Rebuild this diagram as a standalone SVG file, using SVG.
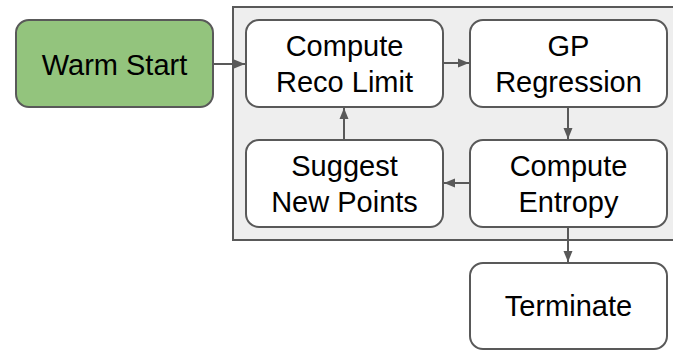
<svg xmlns="http://www.w3.org/2000/svg" width="673" height="353" viewBox="0 0 673 353">
<defs>
<style>
.box{fill:#ffffff;stroke:#595959;stroke-width:2}
.start{fill:#93c47d;stroke:#595959;stroke-width:2}
.lbl{font-family:"Liberation Sans",Arial,sans-serif;font-size:29px;fill:#000000;text-anchor:middle}
.edge{stroke:#595959;stroke-width:2;fill:none;marker-end:url(#ah)}
</style>
<marker id="ah" markerWidth="12" markerHeight="10" refX="11" refY="5" orient="auto" markerUnits="userSpaceOnUse">
<path d="M0,0.5 L11,5 L0,9.5 Z" fill="#595959"/>
</marker>
</defs>
<rect x="233" y="7" width="445" height="233" fill="#eeeeee" stroke="#595959" stroke-width="2"/>
<g id="warm-start">
<rect class="start" x="16" y="20" width="197" height="87" rx="13"/>
<text class="lbl" x="114.5" y="74.5">Warm Start</text>
</g>
<g id="compute-reco-limit">
<rect class="box" x="246" y="20" width="197" height="87" rx="13"/>
<text class="lbl" x="344.5" y="56">Compute</text>
<text class="lbl" x="344.5" y="92">Reco Limit</text>
</g>
<g id="gp-regression">
<rect class="box" x="470" y="20" width="197" height="87" rx="13"/>
<text class="lbl" x="568.5" y="56">GP</text>
<text class="lbl" x="568.5" y="92">Regression</text>
</g>
<g id="suggest-new-points">
<rect class="box" x="246" y="140" width="197" height="87" rx="13"/>
<text class="lbl" x="344.5" y="176">Suggest</text>
<text class="lbl" x="344.5" y="212">New Points</text>
</g>
<g id="compute-entropy">
<rect class="box" x="470" y="140" width="197" height="87" rx="13"/>
<text class="lbl" x="568.5" y="176">Compute</text>
<text class="lbl" x="568.5" y="212">Entropy</text>
</g>
<g id="terminate">
<rect class="box" x="470" y="263" width="197" height="86" rx="13"/>
<text class="lbl" x="568.5" y="316">Terminate</text>
</g>
<g id="connectors">
<line class="edge" x1="213" y1="64" x2="245" y2="64"/>
<line class="edge" x1="443" y1="63" x2="469" y2="63"/>
<line class="edge" x1="568" y1="107" x2="568" y2="139"/>
<line class="edge" x1="470" y1="183" x2="444" y2="183"/>
<line class="edge" x1="344" y1="140" x2="344" y2="108"/>
<line class="edge" x1="568" y1="227" x2="568" y2="262"/>
</g>
</svg>
